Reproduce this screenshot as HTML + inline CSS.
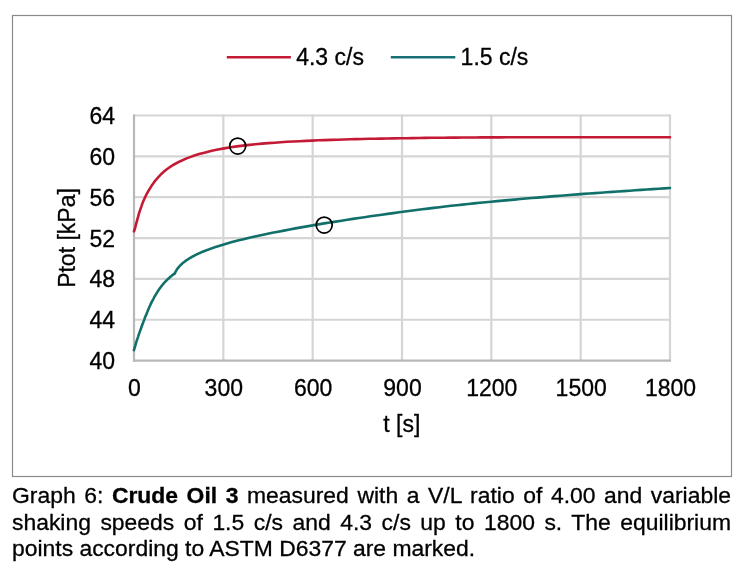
<!DOCTYPE html>
<html><head><meta charset="utf-8"><style>
html,body{margin:0;padding:0;background:#fff;width:744px;height:572px;overflow:hidden}
body{filter:blur(0.3px)}
svg{position:absolute;left:0;top:0}
text{font-family:"Liberation Sans",sans-serif;fill:#000;stroke:#000;stroke-width:0.3px}
.cap{position:absolute;left:12px;width:719px;font-family:"Liberation Sans",sans-serif;font-size:22.9px;line-height:26px;height:26px;color:#000;-webkit-text-stroke:0.3px #000;text-align:justify;text-align-last:justify;white-space:normal}
.l3{text-align:left;text-align-last:left}
</style></head><body>
<svg width="744" height="572" viewBox="0 0 744 572">
<rect x="12.5" y="15.5" width="719" height="461" fill="#fff" stroke="#8a8a8a" stroke-width="1.2"/>
<g stroke="#d5d5d5" stroke-width="2.2">
<line x1="223.33" y1="114.5" x2="223.33" y2="360.6" /><line x1="312.67" y1="114.5" x2="312.67" y2="360.6" /><line x1="402.00" y1="114.5" x2="402.00" y2="360.6" /><line x1="491.33" y1="114.5" x2="491.33" y2="360.6" /><line x1="580.67" y1="114.5" x2="580.67" y2="360.6" /><line x1="670.00" y1="114.5" x2="670.00" y2="360.6" /><line x1="134.0" y1="115.50" x2="671.0" y2="115.50" /><line x1="134.0" y1="156.35" x2="671.0" y2="156.35" /><line x1="134.0" y1="197.20" x2="671.0" y2="197.20" /><line x1="134.0" y1="238.05" x2="671.0" y2="238.05" /><line x1="134.0" y1="278.90" x2="671.0" y2="278.90" /><line x1="134.0" y1="319.75" x2="671.0" y2="319.75" />
</g>
<line x1="134.0" y1="114.5" x2="134.0" y2="361.6" stroke="#b8b8b8" stroke-width="2.2"/>
<line x1="133.0" y1="360.6" x2="671.0" y2="360.6" stroke="#b8b8b8" stroke-width="2.2"/>
<g font-size="23">
<text x="115" y="369.1" text-anchor="end">40</text><text x="115" y="328.2" text-anchor="end">44</text><text x="115" y="287.4" text-anchor="end">48</text><text x="115" y="246.6" text-anchor="end">52</text><text x="115" y="205.7" text-anchor="end">56</text><text x="115" y="164.9" text-anchor="end">60</text><text x="115" y="124.0" text-anchor="end">64</text>
<text x="134.5" y="396.3" text-anchor="middle">0</text><text x="223.8" y="396.3" text-anchor="middle">300</text><text x="313.2" y="396.3" text-anchor="middle">600</text><text x="402.5" y="396.3" text-anchor="middle">900</text><text x="491.8" y="396.3" text-anchor="middle">1200</text><text x="581.2" y="396.3" text-anchor="middle">1500</text><text x="670.5" y="396.3" text-anchor="middle">1800</text>
<text x="401.8" y="431.6" text-anchor="middle">t [s]</text>
<text transform="translate(74.6,238) rotate(-90)" text-anchor="middle">Ptot [kPa]</text>
<text x="296.2" y="65.1">4.3 c/s</text>
<text x="460.6" y="65.1">1.5 c/s</text>
</g>
<line x1="226.8" y1="57.2" x2="290.9" y2="57.2" stroke="#c41a35" stroke-width="2.6"/>
<line x1="390.8" y1="57.2" x2="455.3" y2="57.2" stroke="#187076" stroke-width="2.6"/>
<path d="M134.0,231.3 L134.7,229.3 L135.4,226.9 L136.0,224.4 L136.7,221.8 L137.4,219.3 L138.1,216.8 L138.7,214.5 L139.4,212.2 L140.1,210.1 L140.8,208.1 L141.5,206.1 L142.1,204.2 L142.8,202.5 L143.5,200.8 L144.2,199.3 L144.8,197.8 L145.5,196.4 L146.2,195.0 L146.9,193.7 L147.6,192.4 L148.2,191.2 L148.9,190.1 L149.6,189.0 L150.3,187.9 L150.9,186.8 L151.6,185.8 L152.3,184.7 L153.0,183.8 L153.7,182.8 L154.3,181.9 L155.0,181.0 L155.7,180.2 L156.4,179.3 L157.1,178.5 L157.7,177.8 L158.4,177.0 L159.1,176.3 L159.8,175.6 L160.4,174.9 L161.1,174.2 L161.8,173.6 L162.5,172.9 L163.2,172.3 L163.8,171.7 L164.5,171.1 L165.2,170.6 L165.9,170.0 L166.5,169.5 L167.2,169.0 L167.9,168.5 L168.6,168.0 L169.3,167.5 L169.9,167.1 L170.6,166.6 L171.3,166.2 L172.0,165.7 L172.6,165.3 L173.3,164.9 L174.0,164.5 L180.3,161.2 L186.6,158.4 L192.8,156.1 L199.1,154.1 L205.4,152.4 L211.7,150.8 L217.9,149.5 L224.2,148.4 L230.5,147.3 L236.8,146.4 L243.1,145.6 L249.3,144.9 L255.6,144.2 L261.9,143.6 L268.2,143.1 L274.5,142.7 L280.7,142.2 L287.0,141.8 L293.3,141.5 L299.6,141.2 L305.8,140.9 L312.1,140.6 L318.4,140.3 L324.7,140.1 L331.0,139.9 L337.2,139.7 L343.5,139.5 L349.8,139.3 L356.1,139.1 L362.4,139.0 L368.6,138.8 L374.9,138.7 L381.2,138.6 L387.5,138.5 L393.7,138.4 L400.0,138.2 L406.3,138.2 L412.6,138.1 L418.9,138.0 L425.1,137.9 L431.4,137.8 L437.7,137.7 L444.0,137.7 L450.3,137.6 L456.5,137.6 L462.8,137.5 L469.1,137.5 L475.4,137.5 L481.6,137.4 L487.9,137.4 L494.2,137.4 L500.5,137.4 L506.8,137.3 L513.0,137.3 L519.3,137.3 L525.6,137.3 L531.9,137.3 L538.2,137.3 L544.4,137.3 L550.7,137.2 L557.0,137.2 L563.3,137.2 L569.5,137.2 L575.8,137.2 L582.1,137.2 L588.4,137.2 L594.7,137.2 L600.9,137.2 L607.2,137.2 L613.5,137.2 L619.8,137.2 L626.1,137.2 L632.3,137.2 L638.6,137.2 L644.9,137.2 L651.2,137.2 L657.4,137.2 L663.7,137.3 L670.0,137.3" fill="none" stroke="#c41a35" stroke-width="2.6" stroke-linejoin="round" stroke-linecap="round"/>
<path d="M133.9,350.2 L134.6,347.9 L135.3,345.6 L135.9,343.4 L136.6,341.2 L137.3,339.1 L138.0,337.1 L138.6,335.0 L139.3,333.1 L140.0,331.1 L140.7,329.2 L141.4,327.3 L142.0,325.5 L142.7,323.7 L143.4,321.9 L144.1,320.1 L144.7,318.3 L145.4,316.6 L146.1,314.9 L146.8,313.2 L147.5,311.5 L148.1,309.9 L148.8,308.3 L149.5,306.8 L150.2,305.3 L150.8,303.8 L151.5,302.4 L152.2,301.1 L152.9,299.8 L153.6,298.5 L154.2,297.2 L154.9,296.0 L155.6,294.9 L156.3,293.7 L157.0,292.6 L157.6,291.6 L158.3,290.6 L159.0,289.6 L159.7,288.6 L160.3,287.7 L161.0,286.8 L161.7,285.9 L162.4,285.0 L163.1,284.2 L163.7,283.4 L164.4,282.7 L165.1,281.9 L165.8,281.2 L166.4,280.5 L167.1,279.8 L167.8,279.2 L168.5,278.5 L169.2,277.9 L169.8,277.3 L170.5,276.7 L171.2,276.2 L171.9,275.6 L172.5,275.1 L173.2,274.6 L173.9,274.1 L173.9,274.1 L173.9,274.1 L173.9,274.1 L173.9,274.1 L174.0,274.1 L174.0,274.1 L174.0,274.1 L174.0,274.1 L174.0,274.1 L174.0,274.1 L174.0,274.0 L174.0,274.0 L174.0,274.0 L174.0,274.0 L174.1,274.0 L174.1,274.0 L174.1,274.0 L174.1,274.0 L174.1,274.0 L174.1,274.0 L174.1,274.0 L174.1,274.0 L174.1,274.0 L174.1,274.0 L174.2,273.9 L174.2,273.9 L174.2,273.9 L174.2,273.9 L174.2,273.9 L174.2,273.9 L174.2,273.9 L174.2,273.9 L174.2,273.9 L174.2,273.9 L174.3,273.9 L174.3,273.9 L174.3,273.9 L174.3,273.9 L174.3,273.8 L174.3,273.8 L174.3,273.8 L174.3,273.8 L174.3,273.8 L174.3,273.8 L174.4,273.8 L174.4,273.8 L174.4,273.8 L174.4,273.8 L174.4,273.8 L174.4,273.8 L174.4,273.8 L174.4,273.8 L174.4,273.7 L174.4,273.7 L174.5,273.7 L174.5,273.7 L174.5,273.7 L174.5,273.7 L174.5,273.7 L174.5,273.7 L174.5,273.7 L174.5,273.7 L174.5,273.7 L174.5,273.7 L174.6,273.7 L174.6,273.7 L174.6,273.7 L174.6,273.6 L174.6,273.6 L174.6,273.6 L174.6,273.6 L174.6,273.6 L174.6,273.6 L174.6,273.6 L174.7,273.6 L174.7,273.6 L174.7,273.6 L174.7,273.6 L174.7,273.6 L174.7,273.6 L175.4,272.1 L176.1,270.9 L176.7,269.8 L177.4,268.8 L178.1,267.9 L178.8,267.1 L179.4,266.3 L180.1,265.6 L180.8,264.9 L181.5,264.3 L182.2,263.6 L182.8,263.1 L183.5,262.5 L184.2,262.0 L184.9,261.4 L185.5,260.9 L186.2,260.5 L186.9,260.0 L187.6,259.5 L188.3,259.1 L188.9,258.7 L189.6,258.3 L190.3,257.9 L191.0,257.5 L191.6,257.1 L192.3,256.7 L193.0,256.3 L193.7,256.0 L194.4,255.6 L195.0,255.2 L195.7,254.9 L196.4,254.6 L197.1,254.2 L197.8,253.9 L198.4,253.6 L199.1,253.3 L199.8,253.0 L200.5,252.7 L201.1,252.4 L201.8,252.1 L202.5,251.8 L203.2,251.5 L203.9,251.2 L204.5,251.0 L205.2,250.7 L205.9,250.4 L206.6,250.2 L207.2,249.9 L207.9,249.7 L208.6,249.4 L209.3,249.2 L210.0,248.9 L210.6,248.7 L211.3,248.4 L212.0,248.2 L212.7,248.0 L213.3,247.7 L214.0,247.5 L214.7,247.3 L220.5,245.4 L226.2,243.7 L232.0,242.1 L237.8,240.6 L243.5,239.2 L249.3,237.8 L255.0,236.5 L260.8,235.2 L266.6,234.0 L272.3,232.8 L278.1,231.7 L283.9,230.6 L289.6,229.5 L295.4,228.4 L301.1,227.4 L306.9,226.4 L312.7,225.4 L318.4,224.4 L324.2,223.4 L330.0,222.5 L335.7,221.6 L341.5,220.7 L347.3,219.8 L353.0,218.9 L358.8,218.0 L364.5,217.2 L370.3,216.3 L376.1,215.5 L381.8,214.7 L387.6,213.9 L393.4,213.1 L399.1,212.3 L404.9,211.5 L410.7,210.8 L416.4,210.0 L422.2,209.3 L427.9,208.6 L433.7,207.9 L439.5,207.2 L445.2,206.5 L451.0,205.8 L456.8,205.2 L462.5,204.6 L468.3,204.0 L474.0,203.4 L479.8,202.8 L485.6,202.3 L491.3,201.7 L497.1,201.1 L502.9,200.6 L508.6,200.1 L514.4,199.6 L520.2,199.0 L525.9,198.5 L531.7,198.0 L537.4,197.6 L543.2,197.1 L549.0,196.6 L554.7,196.1 L560.5,195.7 L566.3,195.2 L572.0,194.8 L577.8,194.4 L583.6,193.9 L589.3,193.5 L595.1,193.1 L600.8,192.7 L606.6,192.3 L612.4,191.9 L618.1,191.5 L623.9,191.1 L629.7,190.7 L635.4,190.3 L641.2,189.9 L646.9,189.5 L652.7,189.1 L658.5,188.8 L664.2,188.4 L670.0,188.0" fill="none" stroke="#11706a" stroke-width="2.6" stroke-linejoin="round" stroke-linecap="round"/>
<circle cx="237.7" cy="146.1" r="8" fill="none" stroke="#000" stroke-width="1.7"/>
<circle cx="324.2" cy="225.1" r="8" fill="none" stroke="#000" stroke-width="1.7"/>
</svg>
<div class="cap" style="top:481.9px">Graph 6: <b>Crude Oil 3</b> measured with a V/L ratio of 4.00 and variable</div>
<div class="cap" style="top:508.8px">shaking speeds of 1.5 c/s and 4.3 c/s up to 1800 s. The equilibrium</div>
<div class="cap l3" style="top:534.6px">points according to ASTM D6377 are marked.</div>
</body></html>
